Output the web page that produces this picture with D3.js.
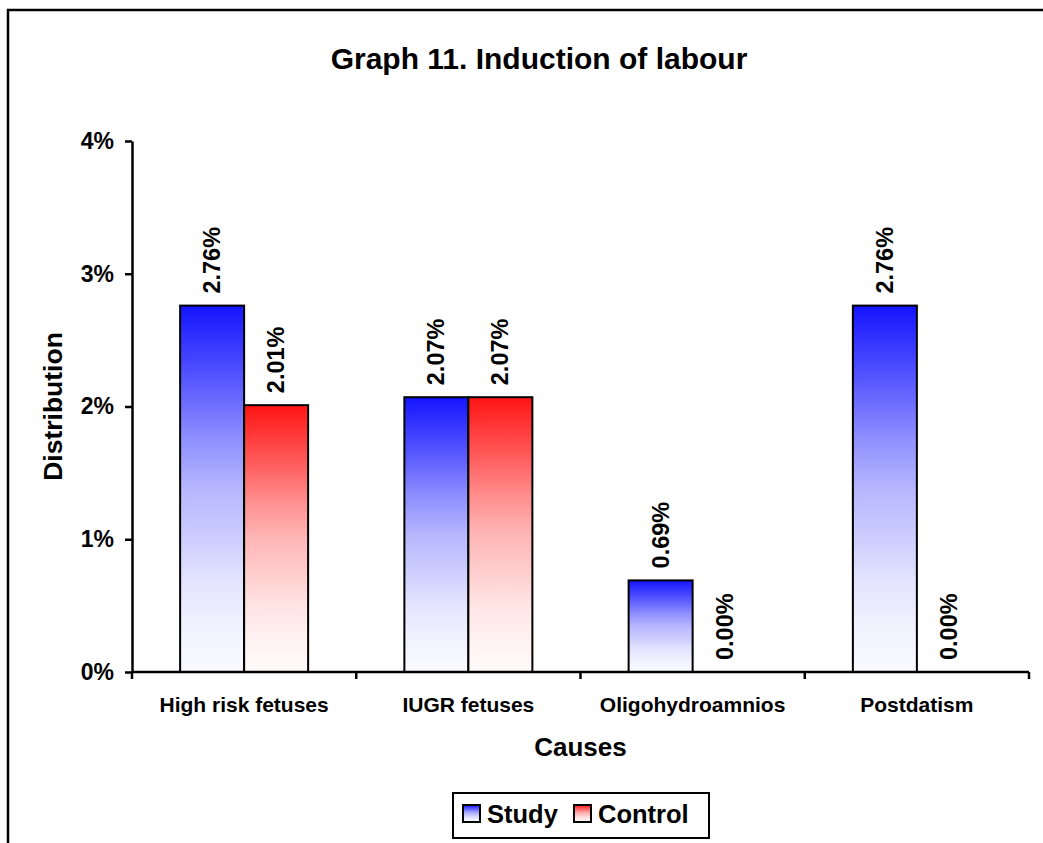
<!DOCTYPE html>
<html>
<head>
<meta charset="utf-8">
<script src="https://cdn.jsdelivr.net/npm/d3@7"></script>
<style>
  html, body { margin: 0; padding: 0; background: #fff; }
  svg { display: block; font-family: Arial, "Liberation Sans", sans-serif; font-weight: bold; }
</style>
</head>
<body>
<svg id="chart" width="1043" height="843"></svg>
<script>
// Chart data
const categories = ["High risk fetuses", "IUGR fetuses", "Oligohydroamnios", "Postdatism"];
const seriesNames = ["Study", "Control"];
const studyValues = [2.76, 2.07, 0.69, 2.76];
const controlValues = [2.01, 2.07, 0.00, 0.00];
const yTicks = [0, 1, 2, 3, 4];
const titleText = "Graph 11. Induction of labour";
const xTitle = "Causes";
const yTitle = "Distribution";

const svg = d3.select("#chart");
const W = 1043, H = 843;
const plot = { left: 132, right: 1029, top: 141, bottom: 672 };

// outer frame (runs past the right and bottom edges)
svg.append("rect")
  .attr("x", 8).attr("y", 10)
  .attr("width", W + 40).attr("height", H + 40)
  .attr("fill", "#fff").attr("stroke", "#000").attr("stroke-width", 2.5);

// gradients: saturated at the top, fading to white at the bottom
const defs = svg.append("defs");
const gradSpecs = [
  { id: "grad-study", rgb: [20, 20, 255] },
  { id: "grad-control", rgb: [255, 20, 20] }
];
const fadeStops = [
  [0.00, 0.00], [0.20, 0.28], [0.36, 0.52], [0.50, 0.69],
  [0.64, 0.79], [0.75, 0.88], [0.87, 0.94], [1.00, 0.98]
];
gradSpecs.forEach(g => {
  const lg = defs.append("linearGradient").attr("id", g.id)
    .attr("x1", 0).attr("y1", 0).attr("x2", 0).attr("y2", 1);
  fadeStops.forEach(([off, t]) => {
    const c = g.rgb.map(v => Math.round(v + (255 - v) * t));
    lg.append("stop").attr("offset", off).attr("stop-color", `rgb(${c[0]},${c[1]},${c[2]})`);
  });
});
const fillFor = { Study: "url(#grad-study)", Control: "url(#grad-control)" };

// scales
const x0 = d3.scaleBand().domain(categories).range([plot.left, plot.right]).paddingInner(0).paddingOuter(0);
const x1 = d3.scaleBand().domain(seriesNames).range([0, x0.bandwidth()]).paddingInner(0).paddingOuter(0.752);
const y = d3.scaleLinear().domain([0, 4]).range([plot.bottom, plot.top]);

// title
svg.append("text")
  .attr("x", 539).attr("y", 69)
  .attr("text-anchor", "middle")
  .attr("font-size", 30)
  .text(titleText);

// bars
const rows = categories.map((c, i) => ({ cat: c, values: [
  { name: "Study", value: studyValues[i] },
  { name: "Control", value: controlValues[i] }
]}));

const groups = svg.append("g").selectAll("g").data(rows).join("g")
  .attr("transform", d => `translate(${x0(d.cat)},0)`);

groups.selectAll("rect").data(d => d.values.filter(v => v.value > 0)).join("rect")
  .attr("x", d => x1(d.name))
  .attr("y", d => y(d.value))
  .attr("width", x1.bandwidth())
  .attr("height", d => y(0) - y(d.value))
  .attr("fill", d => fillFor[d.name])
  .attr("stroke", "#000").attr("stroke-width", 2);

// value labels, rotated
groups.selectAll("text.val").data(d => d.values).join("text")
  .attr("class", "val")
  .attr("transform", d => `translate(${x1(d.name) + x1.bandwidth() / 2 + 8},${y(d.value) - 12}) rotate(-90)`)
  .attr("text-anchor", "start")
  .attr("font-size", 23.5)
  .text(d => d.value.toFixed(2) + "%");

// y axis
const yAxis = d3.axisLeft(y).tickValues(yTicks).tickSize(7).tickSizeOuter(0).tickFormat(d => d + "%");
const gy = svg.append("g").attr("transform", `translate(${plot.left},0)`).call(yAxis);
gy.select(".domain").attr("stroke", "#000").attr("stroke-width", 2.5);
gy.selectAll(".tick line").attr("stroke", "#000").attr("stroke-width", 2.5);
gy.selectAll(".tick text")
  .attr("x", -18)
  .attr("font-size", 23).attr("font-family", "Arial, 'Liberation Sans', sans-serif")
  .attr("font-weight", "bold").attr("fill", "#000");

// x axis: line with ticks at category boundaries
const gx = svg.append("g");
gx.append("line")
  .attr("x1", plot.left).attr("x2", plot.right)
  .attr("y1", y(0)).attr("y2", y(0))
  .attr("stroke", "#000").attr("stroke-width", 2.5);
const boundaries = categories.map(c => x0(c)).concat([x0(categories[categories.length - 1]) + x0.bandwidth()]);
gx.selectAll("line.tk").data(boundaries).join("line")
  .attr("class", "tk")
  .attr("x1", d => d).attr("x2", d => d)
  .attr("y1", y(0)).attr("y2", y(0) + 7)
  .attr("stroke", "#000").attr("stroke-width", 2.5);
gx.selectAll("text").data(categories).join("text")
  .attr("x", d => x0(d) + x0.bandwidth() / 2)
  .attr("y", 712)
  .attr("text-anchor", "middle")
  .attr("font-size", 21)
  .text(d => d);

// axis titles
svg.append("text")
  .attr("x", (plot.left + plot.right) / 2).attr("y", 756)
  .attr("text-anchor", "middle").attr("font-size", 26)
  .text(xTitle);
svg.append("text")
  .attr("transform", `translate(62,${(plot.top + plot.bottom) / 2}) rotate(-90)`)
  .attr("text-anchor", "middle").attr("font-size", 26.5)
  .text(yTitle);

// legend
const legend = svg.append("g");
legend.append("rect")
  .attr("x", 453).attr("y", 793).attr("width", 256).attr("height", 45)
  .attr("fill", "#fff").attr("stroke", "#000").attr("stroke-width", 2);
const legendItems = [
  { name: "Study", sx: 463 },
  { name: "Control", sx: 574 }
];
legendItems.forEach(it => {
  legend.append("rect")
    .attr("x", it.sx).attr("y", 805).attr("width", 17).attr("height", 17)
    .attr("fill", fillFor[it.name]).attr("stroke", "#000").attr("stroke-width", 2);
  legend.append("text")
    .attr("x", it.sx + 24).attr("y", 823)
    .attr("font-size", 25.5)
    .text(it.name);
});
</script>
</body>
</html>
